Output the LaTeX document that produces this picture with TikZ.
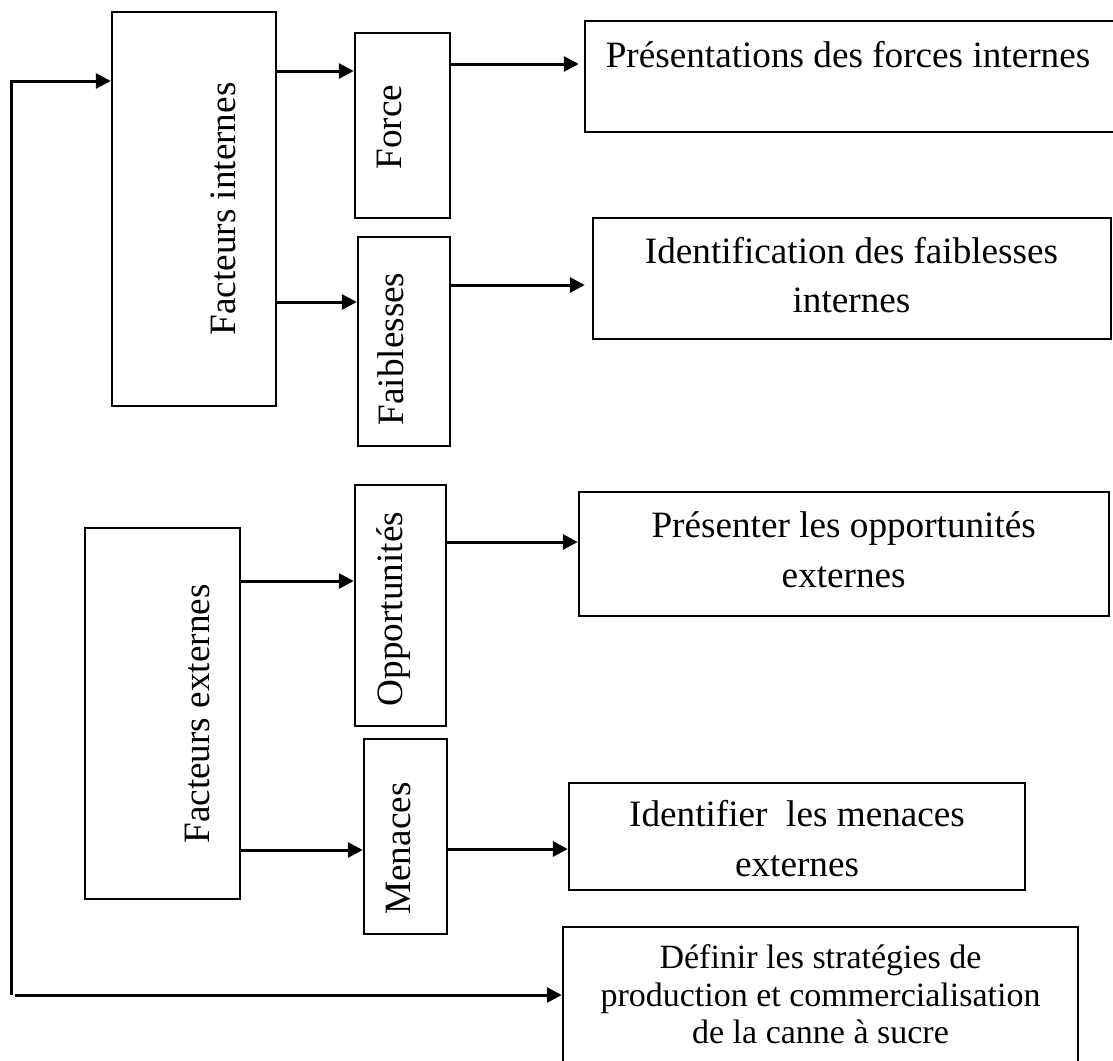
\documentclass[tikz,border=0pt]{standalone}
\usepackage{fontspec}
\setmainfont{Liberation Serif}[Ligatures=NoCommon]
\usetikzlibrary{arrows.meta,fit}
\tikzset{
  box/.style={draw, line width=2.4pt, inner sep=0pt, rectangle},
  arr/.style={line width=3pt, -{Triangle[length=15pt,width=15pt]}},
  big/.style={font=\fontsize{37.2}{44}\selectfont, inner sep=0pt},
  small/.style={font=\fontsize{34}{40}\selectfont, inner sep=0pt},
  vtxt/.style={big, rotate=90, anchor=base},
  htxt/.style={big, anchor=base},
  stxt/.style={small, anchor=base},
}
\begin{document}
\begin{tikzpicture}[x=1pt,y=-1pt]
\useasboundingbox (0,0) rectangle (1113,1060);
\fill[white] (0,0) rectangle (1113,1060);

% boxes
\node[box, fit={(112,12)(276,406)}] (fi) {};
\node[box, fit={(355,33)(450,218)}] (force) {};
\node[box, fit={(358,237)(450,446)}] (faib) {};
\node[box, fit={(585,21)(1125,132)}] (pres) {};
\node[box, fit={(593,218)(1111,339)}] (ident) {};
\node[box, fit={(355,485)(446,726)}] (opp) {};
\node[box, fit={(579,492)(1109,616)}] (prest) {};
\node[box, fit={(85,528)(240,899)}] (fe) {};
\node[box, fit={(364,739)(447,934)}] (men) {};
\node[box, fit={(569,783)(1025,890)}] (idf) {};
\node[box, fit={(563,927)(1078,1080)}] (def) {};

% vertical texts
\node[vtxt] (tfi) at (235.4,209) {Facteurs internes};
\node[vtxt] (tforce) at (401.8,127) {Force};
\node[vtxt] (tfaib) at (403.7,349) {Faiblesses};
\node[vtxt] (topp) at (402,609) {Opportunités};
\node[vtxt] (tfe) at (209.7,714) {Facteurs externes};
\node[vtxt] (tmen) at (410.7,848.5) {Menaces};

% horizontal texts
\node[htxt] (tpres) at (848,67) {Présentations des forces internes};
\node[htxt] (tid1) at (851.5,263) {Identification des faiblesses};
\node[htxt] (tid2) at (851.5,312) {internes};
\node[htxt] (tpo1) at (843.7,537.5) {Présenter les opportunités};
\node[htxt] (tpo2) at (843.7,587) {externes};
\node[htxt] (tim1) at (797,826.8) {Identifier\ \ les menaces};
\node[htxt] (tim2) at (797,876.8) {externes};
\node[stxt] (td1) at (820.5,968) {Définir les stratégies de};
\node[stxt] (td2) at (820.5,1006.5) {production et commercialisation};
\node[stxt] (td3) at (820.5,1043) {de la canne à sucre};

% connectors
\draw[arr] (fi.east |- 0,71) -- (force.west |- 0,71);
\draw[arr] (fi.east |- 0,302) -- (faib.west |- 0,302);
\draw[arr, shorten >=5pt] (force.east |- 0,64) -- (pres.west |- 0,64);
\draw[arr, shorten >=7pt] (faib.east |- 0,285) -- (ident.west |- 0,285);
\draw[arr] (fe.east |- 0,581) -- (opp.west |- 0,581);
\draw[arr] (opp.east |- 0,542) -- (prest.west |- 0,542);
\draw[arr] (fe.east |- 0,850) -- (men.west |- 0,850);
\draw[arr] (men.east |- 0,849) -- (idf.west |- 0,849);

\coordinate (lb) at (11,995);
\draw[arr] (lb) |- (fi.west |- 0,81);
\draw[arr] ([xshift=4pt]lb) -- (def.west |- lb);
\end{tikzpicture}
\end{document}
